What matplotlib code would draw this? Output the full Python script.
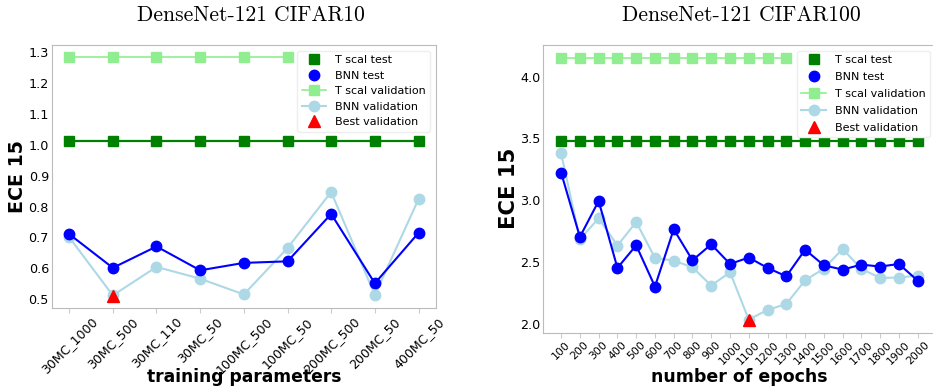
import numpy as np
import matplotlib
matplotlib.use("Agg")
import matplotlib.pyplot as plt

# %%
# left panel: DenseNet-121 CIFAR10
params_c10 = ["30MC_1000", "30MC_500", "30MC_110", "30MC_50", "100MC_500",
              "100MC_50", "200MC_500", "200MC_50", "400MC_50"]
tscal_test_c10 = [1.012] * 9
tscal_val_c10 = [1.283] * 6
bnn_test_c10 = [0.711, 0.602, 0.671, 0.594, 0.618, 0.623, 0.776, 0.552, 0.715]
bnn_val_c10 = [0.701, 0.513, 0.605, 0.567, 0.516, 0.666, 0.847, 0.514, 0.824]
best_c10 = ("30MC_500", 0.511)

# right panel: DenseNet-121 CIFAR100
epochs_c100 = [str(e) for e in range(100, 2001, 100)]
tscal_test_c100 = [3.476] * 20
tscal_val_c100 = [4.151] * 13
bnn_test_c100 = [3.223, 2.702, 2.993, 2.451, 2.634, 2.300, 2.764, 2.513, 2.642, 2.483,
                 2.535, 2.451, 2.383, 2.599, 2.472, 2.437, 2.478, 2.462, 2.483, 2.348]
bnn_val_c100 = [3.379, 2.683, 2.853, 2.632, 2.823, 2.532, 2.510, 2.456, 2.308, 2.416,
                2.032, 2.111, 2.159, 2.351, 2.445, 2.605, 2.443, 2.370, 2.373, 2.389]
best_c100 = ("1100", 2.030)

# %%
def draw_panel(ax, labels, tscal_test, tscal_val, bnn_test, bnn_val, best, yticks, xtick_size, spacing):
    x = np.arange(len(labels))
    ms = 7.5
    ax.plot(x[:len(tscal_test)], tscal_test, "-", color="green", lw=1.6, zorder=2)
    ax.plot(x[:len(tscal_test)], tscal_test, "s", color="green", ms=ms, label="T scal test", zorder=3)
    ax.plot(x, bnn_test, "-", color="blue", lw=1.5, zorder=4)
    ax.plot(x, bnn_test, "o", color="blue", ms=ms, label="BNN test", zorder=5)
    ax.plot(x[:len(tscal_val)], tscal_val, "-s", color="lightgreen", lw=1.2, ms=ms,
            label="T scal validation", zorder=2)
    ax.plot(x, bnn_val, "-o", color="lightblue", lw=1.5, ms=ms, label="BNN validation", zorder=3)
    ax.plot(labels.index(best[0]), best[1], "^", color="red", ms=ms + 1, label="Best validation", zorder=6)
    ax.set_xticks(x)
    ax.set_xticklabels(labels, rotation=45, fontsize=xtick_size)
    ax.set_yticks(yticks)
    ax.set_yticklabels(["%.1f" % v for v in yticks], fontsize=9.2)
    ax.tick_params(axis="y", length=0, pad=2)
    ax.tick_params(axis="x", length=3.5, color="#cccccc", pad=1.5)
    for s in ax.spines.values():
        s.set_color("#bbbbbb")
    leg = ax.legend(loc="upper right", fontsize=8, framealpha=1, edgecolor="#eeeeee",
                    handlelength=2.2, borderpad=0.4, labelspacing=spacing)
    leg.set_zorder(10)

fig = plt.figure(figsize=(9.33, 3.9), dpi=100)
ax1 = fig.add_axes([0.0554, 0.2103, 0.4119, 0.6744])
ax2 = fig.add_axes([0.5823, 0.1462, 0.4204, 0.7385])

draw_panel(ax1, params_c10, tscal_test_c10, tscal_val_c10, bnn_test_c10, bnn_val_c10, best_c10,
           [0.5, 0.6, 0.7, 0.8, 0.9, 1.0, 1.1, 1.2, 1.3], 9, 0.5)
draw_panel(ax2, epochs_c100, tscal_test_c100, tscal_val_c100, bnn_test_c100, bnn_val_c100, best_c100,
           [2.0, 2.5, 3.0, 3.5, 4.0], 7.8, 0.63)

ax1.set_ylabel("ECE 15", fontsize=13.7, fontweight="bold", va="center")
ax1.yaxis.set_label_coords(-0.09, 0.5)
ax1.set_xlabel("training parameters", fontsize=12.3, fontweight="bold", va="center")
ax1.xaxis.set_label_coords(0.5, -0.262)

ax2.set_ylabel("ECE 15", fontsize=15.2, fontweight="bold", va="center")
ax2.yaxis.set_label_coords(-0.088, 0.503)
ax2.set_xlabel("number of epochs", fontsize=12.5, fontweight="bold", va="center")
ax2.xaxis.set_label_coords(0.5, -0.153)

fig.text(0.2685, 0.9615, "DenseNet-121 CIFAR10", fontfamily="cmr10", fontsize=15.5, ha="center", va="center")
fig.text(0.795, 0.9615, "DenseNet-121 CIFAR100", fontfamily="cmr10", fontsize=15.5, ha="center", va="center")

plt.savefig("out.png", dpi=100)
